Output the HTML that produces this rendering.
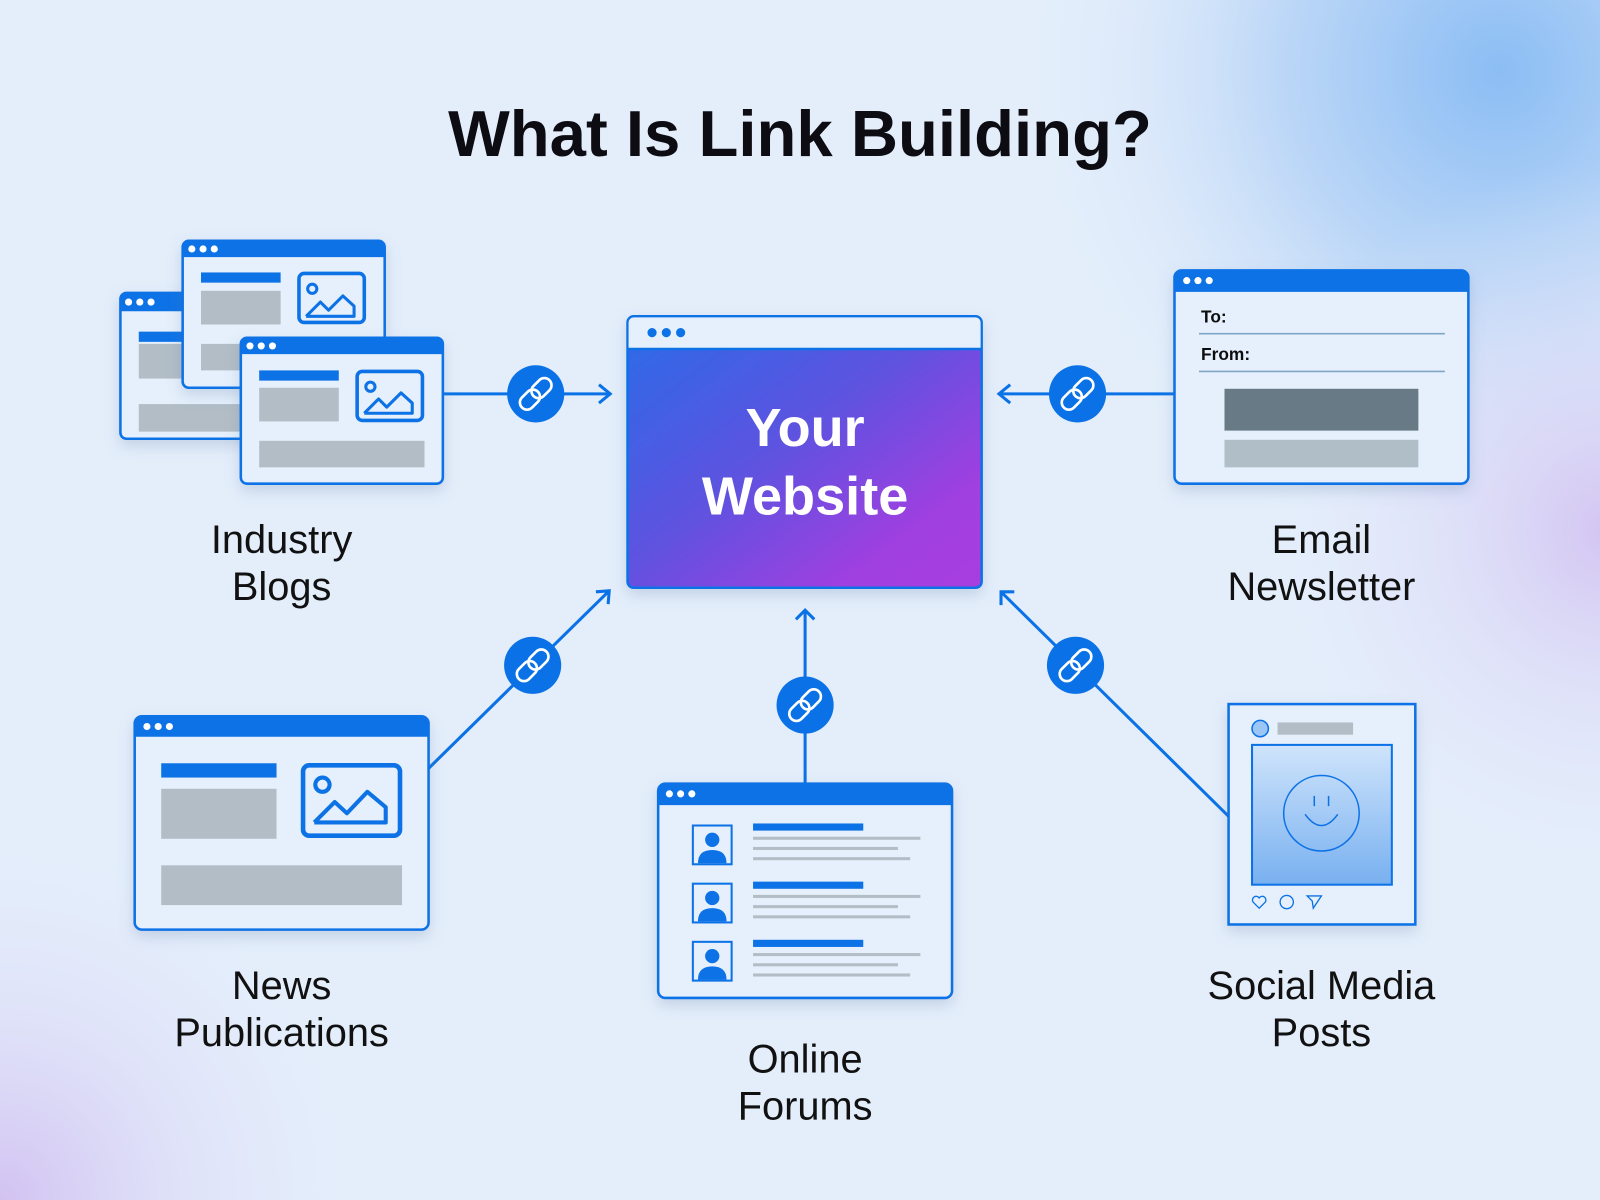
<!DOCTYPE html>
<html><head><meta charset="utf-8"><style>
html,body{margin:0;padding:0;width:1600px;height:1200px;overflow:hidden;background:#e4eefb}
svg{display:block}
text{font-family:"Liberation Sans",sans-serif}
</style></head><body>
<svg width="1600" height="1200" viewBox="0 0 1568 1176" xmlns="http://www.w3.org/2000/svg">
<defs>
 <radialGradient id="bgTR" cx="1470" cy="70" r="480" gradientUnits="userSpaceOnUse">
  <stop offset="0" stop-color="#8bbdf4"/><stop offset="0.45" stop-color="#bcd7f7"/><stop offset="1" stop-color="#e4eefb" stop-opacity="0"/>
 </radialGradient>
 <radialGradient id="bgR" cx="1580" cy="520" r="360" gradientUnits="userSpaceOnUse">
  <stop offset="0" stop-color="#d3c4f2"/><stop offset="1" stop-color="#e4eefb" stop-opacity="0"/>
 </radialGradient>
 <radialGradient id="bgBL" cx="0" cy="1176" r="380" gradientUnits="userSpaceOnUse">
  <stop offset="0" stop-color="#d2c2f2"/><stop offset="1" stop-color="#e4eefb" stop-opacity="0"/>
 </radialGradient>
 <linearGradient id="site" x1="0" y1="0" x2="1" y2="1">
  <stop offset="0" stop-color="#2a6ce8"/><stop offset="0.45" stop-color="#5d53e0"/><stop offset="0.8" stop-color="#a03fe0"/><stop offset="1" stop-color="#a83ee0"/>
 </linearGradient>
 <linearGradient id="photo" x1="0" y1="0" x2="0" y2="1">
  <stop offset="0" stop-color="#cfe4fb"/><stop offset="1" stop-color="#78b0f0"/>
 </linearGradient>
 <filter id="sh" x="-20%" y="-20%" width="140%" height="150%"><feDropShadow dx="0" dy="6" stdDeviation="7" flood-color="#5a7aa6" flood-opacity="0.25"/></filter>
 <g id="lk">
  <circle cx="0" cy="0" r="28" fill="#0a72e6"/>
  <g transform="rotate(-45)" fill="none" stroke="#fff" stroke-width="2.6">
   <rect x="-19" y="-7" width="22" height="14" rx="7"/>
   <rect x="-3" y="-7" width="22" height="14" rx="7"/>
  </g>
 </g>
 <g id="dots" fill="#fff"><circle cx="0" cy="0" r="3.5"/><circle cx="11" cy="0" r="3.5"/><circle cx="22" cy="0" r="3.5"/></g>
</defs>
<rect width="1568" height="1176" fill="#e4eefb"/>
<rect width="1568" height="1176" fill="url(#bgTR)"/>
<rect width="1568" height="1176" fill="url(#bgR)"/>
<rect width="1568" height="1176" fill="url(#bgBL)"/>

<text x="784" y="153" text-anchor="middle" font-size="64" font-weight="bold" fill="#0c0c12">What Is Link Building?</text>

<g stroke="#0a72e6" stroke-width="3" fill="none">
 <line x1="434" y1="386" x2="597" y2="386"/>
 <polyline points="587,377 598,386 587,395"/>
 <line x1="1151" y1="386" x2="980" y2="386"/>
 <polyline points="990,377 979,386 990,395"/>
 <line x1="420" y1="753" x2="597" y2="579"/>
 <polyline points="584,580 597,579 596,592"/>
 <line x1="789" y1="768" x2="789" y2="598"/>
 <polyline points="780,607 789,598 798,607"/>
 <line x1="1204" y1="800" x2="981" y2="580"/>
 <polyline points="981,593 981,580 994,580"/>
</g>
<use href="#lk" x="525" y="386"/>
<use href="#lk" x="1056" y="386"/>
<use href="#lk" x="522" y="652"/>
<use href="#lk" x="789" y="691"/>
<use href="#lk" x="1054" y="652"/>

<g filter="url(#sh)">
 <rect x="118" y="287" width="180" height="143" rx="6" fill="#e6f0fc" stroke="#0a72e6" stroke-width="2.5"/>
 <path d="M118 305 V293 a6 6 0 0 1 6 -6 H298 V305 Z" fill="#0a72e6"/>
 <use href="#dots" x="126" y="296"/>
 <rect x="136" y="325" width="60" height="10" fill="#0a72e6"/>
 <rect x="136" y="337" width="60" height="34" fill="#b2bdc6"/>
 <rect x="136" y="396" width="120" height="27" fill="#b2bdc6"/>
</g>
<g filter="url(#sh)">
 <rect x="179" y="236" width="198" height="144" rx="6" fill="#e6f0fc" stroke="#0a72e6" stroke-width="2.5"/>
 <path d="M179 252 V242 a6 6 0 0 1 6 -6 H371 a6 6 0 0 1 6 6 V252 Z" fill="#0a72e6"/>
 <use href="#dots" x="188" y="244"/>
 <rect x="197" y="267" width="78" height="10" fill="#0a72e6"/>
 <rect x="197" y="285" width="78" height="33" fill="#b2bdc6"/>
 <rect x="197" y="337" width="78" height="26" fill="#b2bdc6"/>
 <rect x="293" y="268" width="64" height="48" rx="5" fill="none" stroke="#0a72e6" stroke-width="3.5"/>
 <circle cx="306" cy="283" r="4.5" fill="none" stroke="#0a72e6" stroke-width="3"/>
 <polyline points="300,310 314,296 322,304 336,290 347,300 347,310 300,310" fill="none" stroke="#0a72e6" stroke-width="3" stroke-linejoin="round"/>
</g>
<g filter="url(#sh)">
 <rect x="236" y="331" width="198" height="143" rx="6" fill="#e6f0fc" stroke="#0a72e6" stroke-width="2.5"/>
 <path d="M236 347 V337 a6 6 0 0 1 6 -6 H428 a6 6 0 0 1 6 6 V347 Z" fill="#0a72e6"/>
 <use href="#dots" x="245" y="339"/>
 <rect x="254" y="363" width="78" height="10" fill="#0a72e6"/>
 <rect x="254" y="380" width="78" height="33" fill="#b2bdc6"/>
 <rect x="254" y="432" width="162" height="26" fill="#b2bdc6"/>
 <rect x="350" y="364" width="64" height="48" rx="5" fill="none" stroke="#0a72e6" stroke-width="3.5"/>
 <circle cx="363" cy="379" r="4.5" fill="none" stroke="#0a72e6" stroke-width="3"/>
 <polyline points="357,405 371,391 379,399 393,385 404,395 404,405 357,405" fill="none" stroke="#0a72e6" stroke-width="3" stroke-linejoin="round"/>
</g>
<text x="276" y="542" text-anchor="middle" font-size="39" fill="#111">Industry</text>
<text x="276" y="588" text-anchor="middle" font-size="39" fill="#111">Blogs</text>

<g filter="url(#sh)">
 <rect x="615" y="310" width="347" height="266" rx="6" fill="url(#site)" stroke="#0a72e6" stroke-width="2.5"/>
 <path d="M616 342 V316 a5 5 0 0 1 5 -5 H956 a5 5 0 0 1 5 5 V342 Z" fill="#e6f0fc"/>
 <line x1="615" y1="342" x2="962" y2="342" stroke="#0a72e6" stroke-width="2.5"/>
 <g fill="#0a72e6"><circle cx="639" cy="326" r="4.5"/><circle cx="653" cy="326" r="4.5"/><circle cx="667" cy="326" r="4.5"/></g>
</g>
<text x="789" y="437" text-anchor="middle" font-size="53" font-weight="bold" fill="#fff">Your</text>
<text x="789" y="504" text-anchor="middle" font-size="53" font-weight="bold" fill="#fff">Website</text>

<g filter="url(#sh)">
 <rect x="1151" y="265" width="288" height="209" rx="7" fill="#e6f0fc" stroke="#0a72e6" stroke-width="2.5"/>
 <path d="M1151 286 V272 a7 7 0 0 1 7 -7 H1432 a7 7 0 0 1 7 7 V286 Z" fill="#0a72e6"/>
 <use href="#dots" x="1163" y="275"/>
 <text x="1177" y="316" font-size="17" font-weight="bold" fill="#111">To:</text>
 <line x1="1175" y1="327" x2="1416" y2="327" stroke="#7fa6c6" stroke-width="1.5"/>
 <text x="1177" y="353" font-size="17" font-weight="bold" fill="#111">From:</text>
 <line x1="1175" y1="364" x2="1416" y2="364" stroke="#7fa6c6" stroke-width="1.5"/>
 <rect x="1200" y="381" width="190" height="41" fill="#687a86"/>
 <rect x="1200" y="431" width="190" height="27" fill="#b0bec8"/>
</g>
<text x="1295" y="542" text-anchor="middle" font-size="39" fill="#111">Email</text>
<text x="1295" y="588" text-anchor="middle" font-size="39" fill="#111">Newsletter</text>

<g filter="url(#sh)">
 <rect x="132" y="702" width="288" height="209" rx="7" fill="#e6f0fc" stroke="#0a72e6" stroke-width="2.5"/>
 <path d="M132 722 V709 a7 7 0 0 1 7 -7 H413 a7 7 0 0 1 7 7 V722 Z" fill="#0a72e6"/>
 <use href="#dots" x="144" y="712"/>
 <rect x="158" y="748" width="113" height="14" fill="#0a72e6"/>
 <rect x="158" y="773" width="113" height="49" fill="#b2bdc6"/>
 <rect x="158" y="848" width="236" height="39" fill="#b2bdc6"/>
 <rect x="297" y="750" width="95" height="69" rx="6" fill="none" stroke="#0a72e6" stroke-width="4.5"/>
 <circle cx="316" cy="769" r="7" fill="none" stroke="#0a72e6" stroke-width="4"/>
 <polyline points="308,806 328,786 340,797 360,776 378,791 378,806 308,806" fill="none" stroke="#0a72e6" stroke-width="4" stroke-linejoin="round"/>
</g>
<text x="276" y="979" text-anchor="middle" font-size="39" fill="#111">News</text>
<text x="276" y="1025" text-anchor="middle" font-size="39" fill="#111">Publications</text>

<g filter="url(#sh)">
 <rect x="645" y="768" width="288" height="210" rx="7" fill="#e6f0fc" stroke="#0a72e6" stroke-width="2.5"/>
 <path d="M645 789 V775 a7 7 0 0 1 7 -7 H926 a7 7 0 0 1 7 7 V789 Z" fill="#0a72e6"/>
 <use href="#dots" x="656" y="778"/>
 <g id="row">
  <rect x="679" y="809" width="38" height="38" fill="#e6f0fc" stroke="#0a72e6" stroke-width="2"/>
  <circle cx="698" cy="823" r="7" fill="#0a72e6"/>
  <path d="M684 846 q0 -13 14 -13 q14 0 14 13 Z" fill="#0a72e6"/>
  <rect x="738" y="807" width="108" height="7" fill="#0a72e6"/>
  <rect x="738" y="820" width="164" height="3" fill="#b2bdc6"/>
  <rect x="738" y="830" width="142" height="3" fill="#b2bdc6"/>
  <rect x="738" y="840" width="154" height="3" fill="#b2bdc6"/>
 </g>
 <use href="#row" x="0" y="57"/>
 <use href="#row" x="0" y="114"/>
</g>
<text x="789" y="1051" text-anchor="middle" font-size="39" fill="#111">Online</text>
<text x="789" y="1097" text-anchor="middle" font-size="39" fill="#111">Forums</text>

<g filter="url(#sh)">
 <rect x="1204" y="690" width="183" height="216" fill="#e6f0fc" stroke="#0a72e6" stroke-width="2.5"/>
 <circle cx="1235" cy="714" r="8" fill="#9cc6f5" stroke="#0a72e6" stroke-width="1.5"/>
 <rect x="1252" y="708" width="74" height="12" fill="#b2bdc6"/>
 <rect x="1227" y="730" width="137" height="137" fill="url(#photo)" stroke="#0a72e6" stroke-width="2"/>
 <circle cx="1295" cy="797" r="37" fill="none" stroke="#0a72e6" stroke-width="1.5"/>
 <line x1="1288" y1="780" x2="1288" y2="790" stroke="#0a72e6" stroke-width="1.5"/>
 <line x1="1302" y1="780" x2="1302" y2="790" stroke="#0a72e6" stroke-width="1.5"/>
 <path d="M1279 798 q16 22 32 0" fill="none" stroke="#0a72e6" stroke-width="1.5"/>
 <path d="M1234 890 l-6 -6 a3.5 3.5 0 0 1 6 -4 a3.5 3.5 0 0 1 6 4 Z" fill="none" stroke="#0a72e6" stroke-width="1.3"/>
 <circle cx="1261" cy="884" r="6.5" fill="none" stroke="#0a72e6" stroke-width="1.3"/>
 <path d="M1281 878 l14 0 l-8 12 l-1 -7 Z" fill="none" stroke="#0a72e6" stroke-width="1.3"/>
</g>
<text x="1295" y="979" text-anchor="middle" font-size="39" fill="#111">Social Media</text>
<text x="1295" y="1025" text-anchor="middle" font-size="39" fill="#111">Posts</text>
</svg>
</body></html>
